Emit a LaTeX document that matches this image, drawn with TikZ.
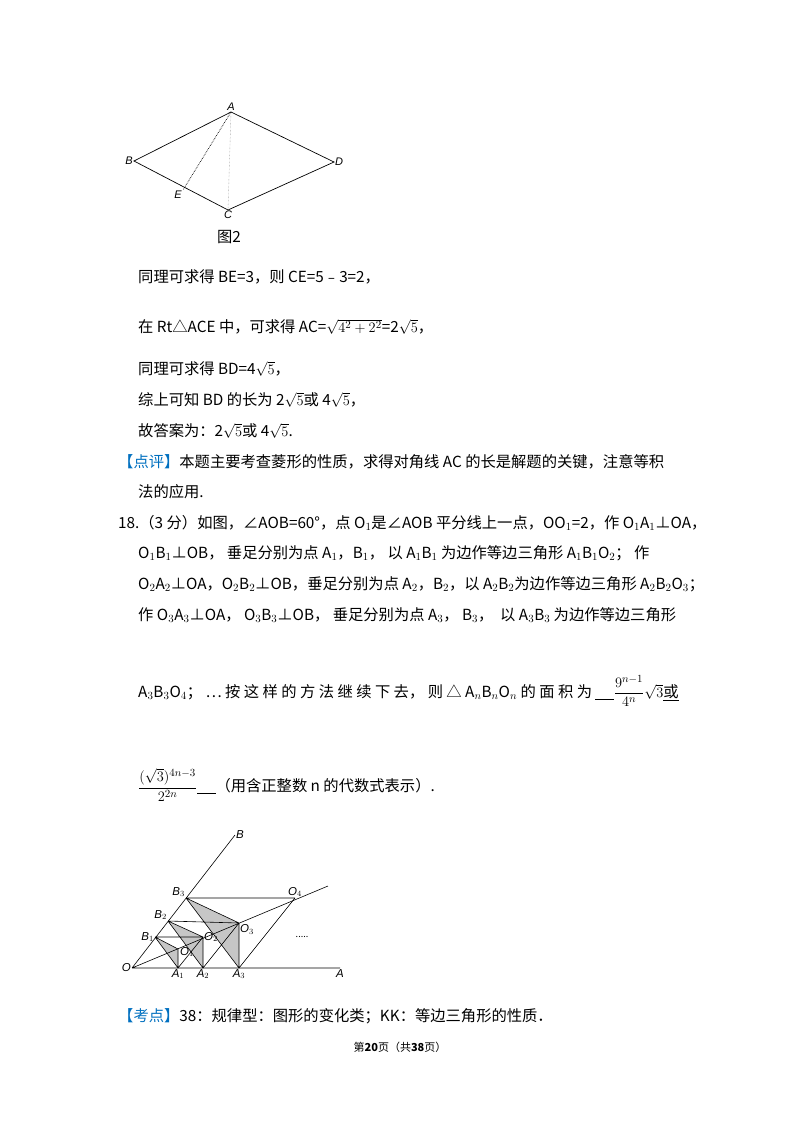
\documentclass[tikz,border=0pt]{standalone}
\usepackage{amsmath}
\usepackage{fontspec}
\setmainfont{Noto Sans CJK SC}
\newfontfamily\lab{Liberation Sans}
\begin{document}
\begin{tikzpicture}[x=1pt,y=1pt,
  t/.style={anchor=west,inner sep=0pt,font=\fontsize{15.3}{17}\selectfont},
  pl/.style={font=\lab\itshape\fontsize{11}{12}\selectfont,inner sep=1pt},
  ql/.style={font=\lab\itshape\fontsize{11.5}{12}\selectfont,inner sep=1pt},
  ln/.style={line width=0.7pt}]
\fill[white] (0,0) rectangle (800,-1132);
% figure 2
\coordinate (A) at (231,-112); \coordinate (B) at (134,-161);
\coordinate (D) at (334,-162); \coordinate (C) at (228,-210);
\coordinate (E) at (183,-190);
\draw[ln] (A)--(B)--(C)--(D)--cycle;
\draw[ln,densely dotted] (A)--(E);
\draw[line width=0.4pt,gray,densely dotted] (A)--(C);
\node[pl,above] at (A) {A}; \node[pl,left] at (B) {B};
\node[pl,right] at (D) {D}; \node[pl,below] at (C) {C};
\node[pl,below left] at (E) {E};
\node[t,anchor=center] (f2) at (229,-237) {图2};
% text
\node[t] (l1) at (138,-277) {同理可求得 BE=3，则 CE=5﹣3=2，};
\node[t] (l2) at (138,-327) {在 Rt△ACE 中，可求得 AC=$\sqrt{4^{2}+2^{2}}$=2$\sqrt{5}$，};
\node[t] (l3) at (138,-369) {同理可求得 BD=4$\sqrt{5}$，};
\node[t] (l4) at (138,-400) {综上可知 BD 的长为 2$\sqrt{5}$或 4$\sqrt{5}$，};
\node[t] (l5) at (138,-431) {故答案为：2$\sqrt{5}$或 4$\sqrt{5}$.};
\node[t] (l6) at (118,-462) {\textcolor[RGB]{0,112,192}{【点评】}本题主要考查菱形的性质，求得对角线 AC 的长是解题的关键，注意等积};
\node[t] (l7) at (138,-492) {法的应用.};
\node[t] (l8) at (118,-523) {18.（3 分）如图，∠AOB=60°，点 O$_1$是∠AOB 平分线上一点，OO$_1$=2，作 O$_1$A$_1$⊥OA，};
\node[t] (l9) at (138,-553) {O$_1$B$_1$⊥OB，\ 垂足分别为点 A$_1$，B$_1$，\ 以 A$_1$B$_1$ 为边作等边三角形 A$_1$B$_1$O$_2$；\ 作};
\node[t] (l10) at (138,-584) {O$_2$A$_2$⊥OA，O$_2$B$_2$⊥OB，垂足分别为点 A$_2$，B$_2$，以 A$_2$B$_2$为边作等边三角形 A$_2$B$_2$O$_3$；};
\node[t] (l11) at (138,-615) {作 O$_3$A$_3$⊥OA，\ O$_3$B$_3$⊥OB，\ 垂足分别为点 A$_3$，\ B$_3$，\ \ 以 A$_3$B$_3$ 为边作等边三角形};
\node[t] (l12) at (138,-691) {A$_3$B$_3$O$_4$； ⋯ 按 这 样 的 方 法 继 续 下 去， 则 △ A$_n$B$_n$O$_n$ 的 面 积 为 \underline{\hspace{1.2em}}$\dfrac{9^{n-1}}{4^{n}}\sqrt{3}$\underline{或}};
\node[t] (l13) at (138,-785) {$\dfrac{(\sqrt{3})^{4n-3}}{2^{2n}}$\underline{\hspace{1.2em}}（用含正整数 n 的代数式表示）.};
% figure 18
\coordinate (O) at (132,-968); \coordinate (Ae) at (340,-968); \coordinate (Be) at (235,-835);
\coordinate (Le) at (328,-886);
\coordinate (A1) at (178,-968); \coordinate (A2) at (203,-968); \coordinate (A3) at (239,-968);
\coordinate (B1) at (155,-937); \coordinate (B2) at (168,-921); \coordinate (B3) at (186,-898);
\coordinate (O1) at (178,-949); \coordinate (O2) at (203,-937); \coordinate (O3) at (239,-923);
\coordinate (O4) at (295,-898);
\fill[gray!45] (B1)--(O1)--(A1)--cycle; \fill[gray!45] (B2)--(O2)--(A2)--cycle;
\fill[gray!45] (B3)--(O3)--(A3)--cycle;
\draw[line width=0.6pt] (O)--(Ae) (O)--(Be) (O)--(Le);
\draw[line width=0.6pt] (B1)--(O2) (B2)--(O3) (B3)--(O4)
 (B1)--(A1)--(O2) (B2)--(A2)--(O3) (B3)--(A3)--(O4)
 (B1)--(O1)--(A1) (B2)--(O2)--(A2) (B3)--(O3)--(A3);
\node[ql,left] at (O) {O}; \node[ql,below] at (Ae) {A}; \node[ql,right] at (Be) {B};
\node[ql,below] at (A1) {A$_1$}; \node[ql,below] at (A2) {A$_2$}; \node[ql,below] at (A3) {A$_3$};
\node[ql,left] at (B1) {B$_1$}; \node[ql,above left] at (B2) {B$_2$}; \node[ql,above left] at (B3) {B$_3$};
\node[ql,right] at (179,-952) {O$_1$}; \node[ql,right] at (O2) {O$_2$};
\node[ql,below right] at (O3) {O$_3$}; \node[ql,above] at (O4) {O$_4$};
\node[font=\fontsize{9}{9}\selectfont] at (302,-937) {.....};
\node[t] (k) at (118,-1016) {\textcolor[RGB]{0,112,192}{【考点】}38：规律型：图形的变化类；KK：等边三角形的性质．};
\node[font=\fontsize{11}{12}\selectfont] (pg) at (400,-1047) {第\textbf{20}页（共\textbf{38}页）};
\end{tikzpicture}
\end{document}
